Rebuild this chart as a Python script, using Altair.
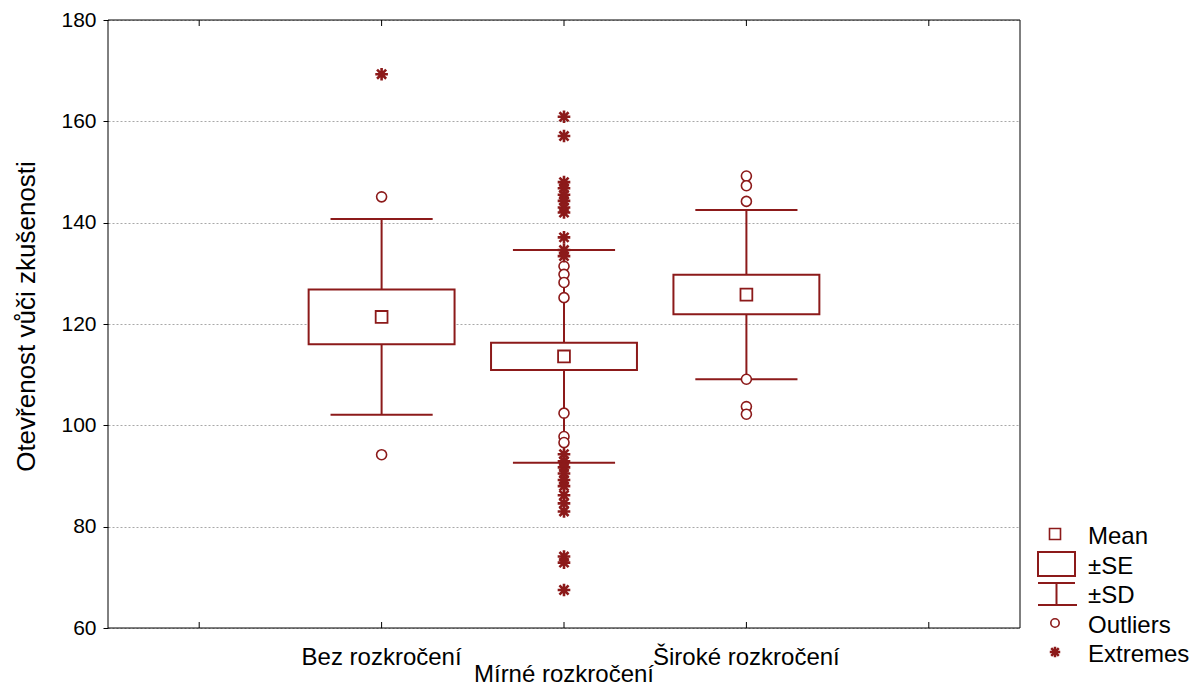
import altair as alt
import pandas as pd

# ---------------- data ----------------
categories = ["Bez rozkročení", "Mírné rozkročení", "Široké rozkročení"]
cat_pos = [1, 2, 3]
means = [121.4, 113.6, 125.8]
se = [5.4, 2.7, 3.9]
sd = [19.3, 21.0, 16.7]

outliers_bez = [145.1, 94.2]
outliers_mirne = [131.4, 129.8, 128.2, 125.2, 102.4, 97.8, 96.6]
outliers_siroke = [149.2, 147.3, 144.2, 109.1, 103.7, 102.2]

extremes_bez = [169.3]
extremes_mirne = [160.9, 157.1, 148.0, 146.8, 145.5, 144.3, 143.0, 142.0,
                  137.1, 134.6, 133.4,
                  94.3, 92.9, 91.7, 90.5, 89.2, 88.0, 86.2, 84.6, 83.0,
                  74.1, 72.9, 67.5]
extremes_siroke = []

x_ticks = [0, 1, 2, 3, 4]
y_ticks = [60, 80, 100, 120, 140, 160, 180]
legend_labels = ["Mean", "±SE", "±SD", "Outliers", "Extremes"]
y_title = "Otevřenost vůči zkušenosti"

# ---------------- style ----------------
COLOR = "#8c1a1a"
FONT = "Liberation Sans"
W, H = 912, 608
STAR = "M-1,0L1,0M0,-1L0,1M-0.72,-0.72L0.72,0.72M-0.72,0.72L0.72,-0.72"

summary = pd.DataFrame({"cat": categories, "pos": cat_pos,
                        "mean": means, "se": se, "sd": sd})

rows = []
for c, p, o, e in zip(categories, cat_pos,
                      [outliers_bez, outliers_mirne, outliers_siroke],
                      [extremes_bez, extremes_mirne, extremes_siroke]):
    for v in o:
        rows.append({"cat": c, "pos": p, "v": v, "kind": "Outliers"})
    for v in e:
        rows.append({"cat": c, "pos": p, "v": v, "kind": "Extremes"})
pts = pd.DataFrame(rows)

xscale = alt.Scale(domain=[-0.5, 4.5], nice=False, zero=False)
yscale = alt.Scale(domain=[60, 180], nice=False, zero=False)

base = alt.Chart(summary).transform_calculate(
    se_lo="datum.mean - datum.se", se_hi="datum.mean + datum.se",
    sd_lo="datum.mean - datum.sd", sd_hi="datum.mean + datum.sd",
    box_l="datum.pos - 0.4", box_r="datum.pos + 0.4",
    cap_l="datum.pos - 0.28", cap_r="datum.pos + 0.28",
)

yaxis = alt.Axis(
    values=y_ticks, title=y_title, grid=True, gridDash=[2, 2],
    gridColor="#a8a8a8", gridWidth=1, domain=False, ticks=True, tickSize=5,
    tickColor="black", labelFont=FONT, labelFontSize=21, labelColor="black",
    labelPadding=7, titleFont=FONT, titleFontSize=26, titleFontWeight="normal",
    titleColor="black", titleAngle=270, titleX=-74, titleY=H / 2 - 8,
    titleAlign="center", titleBaseline="alphabetic",
)


def Y(field):
    return alt.Y(field, scale=yscale, axis=yaxis)


def X(field):
    return alt.X(field, scale=xscale, axis=None)


whisker = base.mark_rule(color=COLOR, strokeWidth=2).encode(
    x=X("pos:Q"), y=Y("sd_lo:Q"), y2="sd_hi:Q")
cap_lo = base.mark_rule(color=COLOR, strokeWidth=2).encode(
    x=X("cap_l:Q"), x2="cap_r:Q", y=Y("sd_lo:Q"))
cap_hi = base.mark_rule(color=COLOR, strokeWidth=2).encode(
    x=X("cap_l:Q"), x2="cap_r:Q", y=Y("sd_hi:Q"))
box = base.mark_rect(fill="white", stroke=COLOR, strokeWidth=2).encode(
    x=X("box_l:Q"), x2="box_r:Q", y=Y("se_lo:Q"), y2="se_hi:Q")
mean_pt = base.mark_point(shape="square", filled=False, color=COLOR,
                          size=140, strokeWidth=1.8, opacity=1).encode(
    x=X("pos:Q"), y=Y("mean:Q"))
out_pts = alt.Chart(pts).transform_filter("datum.kind == 'Outliers'").mark_point(
    shape="circle", filled=True, fill="white", stroke=COLOR, strokeWidth=1.6,
    size=100, opacity=1).encode(x=X("pos:Q"), y=Y("v:Q"))
ext_pts = alt.Chart(pts).transform_filter("datum.kind == 'Extremes'").mark_point(
    shape=STAR, filled=False, color=COLOR, strokeWidth=2.6, size=160,
    opacity=1).encode(x=X("pos:Q"), y=Y("v:Q"))

tick_df = pd.DataFrame({"t": x_ticks})
ticks_bottom = alt.Chart(tick_df).mark_rule(color="black", strokeWidth=1).encode(
    x=X("t:Q"), y=alt.value(H), y2=alt.value(H - 6))
ticks_top = alt.Chart(tick_df).mark_rule(color="black", strokeWidth=1).encode(
    x=X("t:Q"), y=alt.value(0), y2=alt.value(6))

one = pd.DataFrame({"k": [0]})
frame = alt.Chart(one).mark_rect(fillOpacity=0, stroke="black", strokeWidth=1).encode(
    x=alt.value(0), x2=alt.value(W), y=alt.value(0), y2=alt.value(H))

lab_row1 = base.transform_filter("datum.pos % 2 == 1").mark_text(
    font=FONT, fontSize=24, color="black", align="center",
    baseline="alphabetic").encode(
    x=X("pos:Q"), y=alt.value(H + 37), text="cat:N")
lab_row2 = base.transform_filter("datum.pos % 2 == 0").mark_text(
    font=FONT, fontSize=24, color="black", align="center",
    baseline="alphabetic").encode(
    x=X("pos:Q"), y=alt.value(H + 54), text="cat:N")

# ---------------- custom legend ----------------
LX = 947
leg = []
leg.append(alt.Chart(one).mark_point(shape="square", filled=False, color=COLOR,
                                     size=121, strokeWidth=1.6, opacity=1).encode(
    x=alt.value(LX), y=alt.value(514)))
leg.append(alt.Chart(one).mark_rect(fillOpacity=0, stroke=COLOR, strokeWidth=2).encode(
    x=alt.value(930), x2=alt.value(967), y=alt.value(532), y2=alt.value(556)))
leg.append(alt.Chart(one).mark_rule(color=COLOR, strokeWidth=2).encode(
    x=alt.value(930), x2=alt.value(967), y=alt.value(563)))
leg.append(alt.Chart(one).mark_rule(color=COLOR, strokeWidth=2).encode(
    x=alt.value(948.5), y=alt.value(563), y2=alt.value(585)))
leg.append(alt.Chart(one).mark_rule(color=COLOR, strokeWidth=2).encode(
    x=alt.value(930), x2=alt.value(969), y=alt.value(585)))
leg.append(alt.Chart(one).mark_point(shape="circle", filled=False, color=COLOR,
                                     size=70, strokeWidth=1.6, opacity=1).encode(
    x=alt.value(LX), y=alt.value(603)))
leg.append(alt.Chart(one).mark_point(shape=STAR, filled=False, color=COLOR,
                                     size=110, strokeWidth=2.5, opacity=1).encode(
    x=alt.value(LX), y=alt.value(632)))
for i, lab in enumerate(legend_labels):
    leg.append(alt.Chart(pd.DataFrame({"t": [lab]})).mark_text(
        font=FONT, fontSize=24, color="black", align="left",
        baseline="alphabetic").encode(
        x=alt.value(980), y=alt.value(524 + i * 29.5), text="t:N"))

chart = alt.layer(
    whisker, cap_lo, cap_hi, box, mean_pt, out_pts, ext_pts,
    ticks_bottom, ticks_top, frame, lab_row1, lab_row2, *leg,
).properties(
    width=W, height=H,
    padding={"left": 100, "top": 12, "right": 171, "bottom": 59},
    autosize=alt.AutoSizeParams(type="none"),
).configure_view(stroke=None)

chart.save("out.html", embed_options={"renderer": "svg", "actions": False})
